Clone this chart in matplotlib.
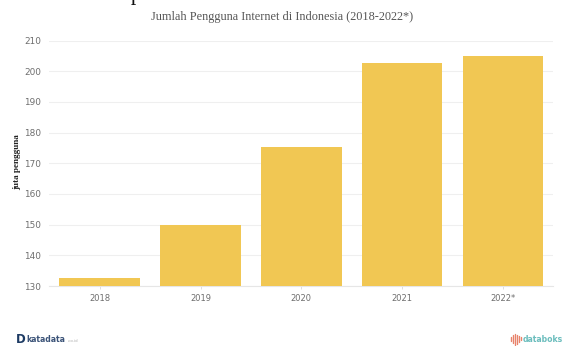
#!/usr/bin/env python3
"""Bar chart of internet users in Indonesia, 2018-2022."""

import matplotlib
matplotlib.use("Agg")
import matplotlib.pyplot as plt
from matplotlib.lines import Line2D

W, H = 568, 346

years = ["2018", "2019", "2020", "2021", "2022*"]
users = [132.7, 150.0, 175.4, 202.6, 204.8]
y_ticks = [130, 140, 150, 160, 170, 180, 190, 200, 210]

BAR = "#f1c753"
GRID = "#efefef"
TICK = "#6e6e6e"


def px(x, y):
    """Pixel position from the top left to figure fraction."""
    return x / W, 1 - y / H


def draw_logo_mark(fig):
    """Small coral bars of the databoks logo."""
    offsets = [(511, 337, 341), (513, 335, 343), (515, 334, 345), (517, 335, 344), (519, 336, 342), (521, 337, 340)]
    for x, y0, y1 in offsets:
        x0, yy0 = px(x, y0)
        _, yy1 = px(x, y1)
        fig.add_artist(Line2D([x0, x0], [yy0, yy1], color="#e8836b", linewidth=1.0, solid_capstyle="round"))


def main():
    fig = plt.figure(figsize=(W / 100, H / 100), dpi=100, facecolor="white")
    left, top = 49.3, 40.5
    right, bottom = 553.3, 286.0
    ax = fig.add_axes([left / W, 1 - bottom / H, (right - left) / W, (bottom - top) / H])

    ax.bar(range(len(years)), users, width=0.8, color=BAR, zorder=3)
    ax.set_xlim(-0.5, len(years) - 0.5)
    ax.set_ylim(130, 210)
    ax.set_yticks(y_ticks)
    ax.set_xticks(range(len(years)), years)
    ax.grid(axis="y", color=GRID, linewidth=0.8, zorder=0)
    ax.tick_params(axis="y", length=0, pad=6, labelsize=6.4, labelcolor=TICK)
    ax.tick_params(axis="x", length=2, color="#dddddd", width=0.7, pad=4, labelsize=6, labelcolor=TICK)
    for side in ["top", "left", "right"]:
        ax.spines[side].set_visible(False)
    ax.spines["bottom"].set_color("#e6e6e6")
    ax.set_axisbelow(True)

    x, y = px(17, 162)
    fig.text(x, y, "juta pengguna", rotation=90, ha="center", va="center",
             family="Liberation Serif", fontsize=6.6, fontweight="bold", color="#222222")

    x, y = px(282, 17)
    fig.text(x, y, "Jumlah Pengguna Internet di Indonesia (2018-2022*)", ha="center", va="center",
             family="Liberation Serif", fontsize=8.8, color="#555555")

    # paragraph line cut off by the top edge
    x, y = px(33, 0.2)
    fig.text(x, y, "Berikut ini pada kurun lima tahun terakhir:", ha="left", va="baseline",
             family="Liberation Serif", fontsize=15.5, color="#111111")

    # footer logos
    x, y = px(16, 339.5)
    fig.text(x, y, "D", ha="left", va="center", fontsize=8.5, fontweight="bold", color="#1c3a63")
    x, y = px(26, 340)
    fig.text(x, y, "katadata", ha="left", va="center", fontsize=5.6, fontweight="bold", color="#3b5378")
    x, y = px(68, 341)
    fig.text(x, y, ".co.id", ha="left", va="center", fontsize=2.8, color="#aaaaaa")
    draw_logo_mark(fig)
    x, y = px(522.5, 339)
    fig.text(x, y, "databoks", ha="left", va="center", fontsize=5.6, fontweight="bold", color="#6bbdbd")

    fig.savefig("out.png", dpi=100)
    plt.close(fig)


if __name__ == "__main__":
    main()
